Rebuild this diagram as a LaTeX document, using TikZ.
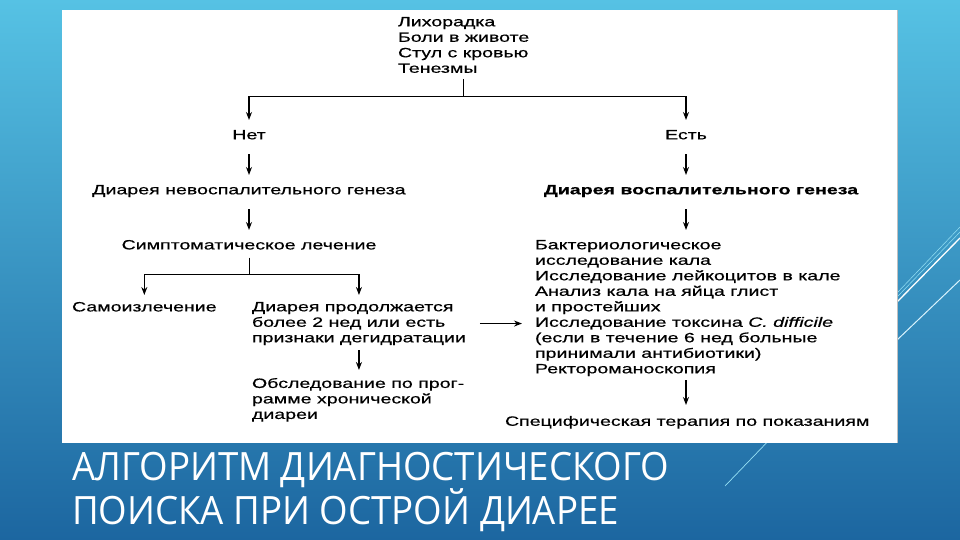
\documentclass[tikz,border=0pt]{standalone}
\usepackage{fontspec}
\setmainfont{Liberation Sans}
\newfontfamily\diagfont[FakeStretch=1.45,FakeBold=0.5]{Liberation Sans}
\newfontfamily\titlefont[FakeStretch=0.94]{Open Sans}
\usetikzlibrary{calc,arrows.meta}

\definecolor{bgtop}{RGB}{86,194,228}
\definecolor{bgbot}{RGB}{28,102,160}
\definecolor{decoline}{RGB}{150,225,245}

\begin{document}
\begin{tikzpicture}[x=1pt,y=-1pt,
    txt/.style={inner sep=0pt, outer sep=0pt, align=left,
        font=\diagfont\fontsize{13.5}{15.5}\selectfont},
    ln/.style={line width=0.8pt},
    arr/.style={-{Stealth[length=8pt,width=6pt]}, line width=1.1pt,
        shorten <=12pt, shorten >=10pt}]
    \useasboundingbox (0,0) rectangle (960,540);

    % Background and white panel
    \shade[top color=bgtop, bottom color=bgbot] (0,0) rectangle (960,540);
    \draw[decoline, line width=0.7pt] (725,486) -- (775,434);
    \draw[decoline, line width=0.5pt] (897,293) -- (960,227);
    \draw[decoline, line width=0.5pt] (897,297) -- (960,232);
    \draw[white, line width=1.3pt] (897,302) -- (960,238);
    \draw[white!85!cyan, line width=1pt] (897,340) -- (960,280);
    \fill[white] (62,10) rectangle (897,443);
    \draw[black!25, line width=1pt] (897.5,10) -- (897.5,443);

    % Symptoms at the top
    \node[txt, anchor=north west] (sym) at (398,17)
        {Лихорадка\\Боли в животе\\Стул с кровью\\Тенезмы};

    % Answers
    \node[txt, anchor=north] (no) at (249,130) {Нет};
    \node[txt, anchor=north] (yes) at (686,130) {Есть};

    % Left branch
    \node[txt, anchor=north] (ninfl) at (249,185) {Диарея невоспалительного генеза};
    \node[txt, anchor=north] (symp) at (249,240) {Симптоматическое лечение};
    \node[txt, anchor=north west] (self) at (72,302) {Самоизлечение};
    \node[txt, anchor=north west] (cont) at (252,302)
        {Диарея продолжается\\более 2 нед или есть\\признаки дегидратации};
    \node[txt, anchor=north west] (chron) at (252,378)
        {Обследование по прог-\\рамме хронической\\диареи};

    % Right branch
    \node[txt, anchor=north, font=\diagfont\bfseries\fontsize{13.5}{15.5}\selectfont] (infl) at (701,185)
        {Диарея воспалительного генеза};
    \node[txt, anchor=north west] (tests) at (535,240)
        {Бактериологическое\\исследование кала\\Исследование лейкоцитов в кале\\Анализ кала на яйца глист\\и простейших\\Исследование токсина \textit{C. difficile}\\(если в течение 6 нед больные\\принимали антибиотики)\\Ректороманоскопия};
    \node[txt, anchor=north west] (spec) at (505,416) {Специфическая терапия по показаниям};

    % Connectors
    \draw[ln, shorten <=6pt] (sym.south) -- ++(0,24) coordinate (jt);
    \draw[arr, shorten <=0pt] (jt) -| (no.north);
    \draw[arr, shorten <=0pt] (jt) -| (yes.north);
    \draw[arr, shorten <=15pt] (no) -- (ninfl);
    \draw[arr, shorten <=15pt] (yes) -- (yes |- infl.north);
    \draw[arr] (ninfl) -- (symp);
    \draw[arr] (infl.south -| yes) -- (tests.north -| yes);
    \draw[ln, shorten <=8pt] (symp.south) -- ++(0,25) coordinate (jl);
    \draw[arr, shorten <=0pt, shorten >=7pt] (jl) -| (self.north);
    \draw[arr, shorten <=0pt, shorten >=7pt] (jl) -| (cont.north);
    \draw[arr, shorten <=5pt, shorten >=8pt] (cont.south) -- (cont.south |- chron.north);
    \draw[arr, shorten <=14pt, shorten >=13pt] (cont) -- (cont -| tests.west);
    \draw[arr, shorten <=4pt, shorten >=11pt] (tests.south -| yes) -- (spec.north -| yes);

    % Title
    \node[anchor=north west, inner sep=0pt, align=left, text=white,
        font=\titlefont\fontsize{39}{44}\selectfont] (title) at (72,452)
        {АЛГОРИТМ ДИАГНОСТИЧЕСКОГО\\ПОИСКА ПРИ ОСТРОЙ ДИАРЕЕ};
\end{tikzpicture}
\end{document}
